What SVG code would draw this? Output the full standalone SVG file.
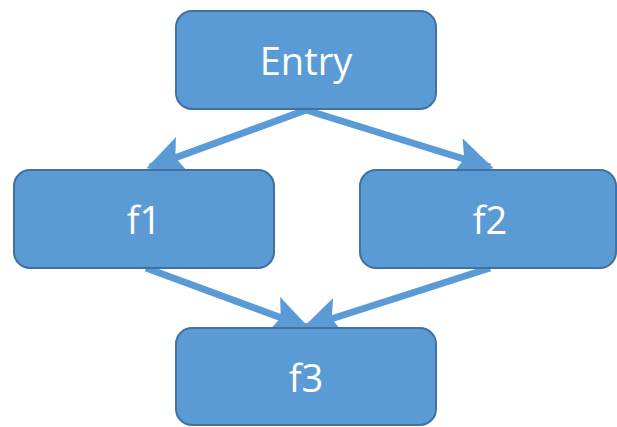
<svg xmlns="http://www.w3.org/2000/svg" width="617" height="427" viewBox="0 0 617 427">
<defs>
<style>
.box{fill:#5B9BD5;stroke:#41719C;stroke-width:2}
.lbl{fill:#fff;font-family:"Open Sans","Liberation Sans",sans-serif;font-size:38px;text-anchor:middle;dominant-baseline:central}
.edge{stroke:#5B9BD5;stroke-width:7;fill:none}
</style>
<marker id="ah" viewBox="0 0 10 10" refX="9" refY="5" markerWidth="5.5" markerHeight="5.5" orient="auto" markerUnits="strokeWidth">
<path d="M0,0 L10,5 L0,10 L2,5 Z" fill="#5B9BD5"/>
</marker>
</defs>
<g id="edges">
<line class="edge" x1="306" y1="110" x2="150" y2="167" marker-end="url(#ah)"/>
<line class="edge" x1="306" y1="110" x2="490" y2="167" marker-end="url(#ah)"/>
<line class="edge" x1="146" y1="268" x2="306" y2="327" marker-end="url(#ah)"/>
<line class="edge" x1="490" y1="268" x2="306" y2="327" marker-end="url(#ah)"/>
</g>
<g id="entry"><rect class="box" x="176" y="11" width="260" height="98" rx="16"/><text class="lbl" x="306" y="60">Entry</text></g>
<g id="f1"><rect class="box" x="14" y="170" width="260" height="98" rx="16"/><text class="lbl" x="144" y="219">f1</text></g>
<g id="f2"><rect class="box" x="360" y="170" width="256" height="98" rx="16"/><text class="lbl" x="490" y="219">f2</text></g>
<g id="f3"><rect class="box" x="176" y="328" width="260" height="97" rx="16"/><text class="lbl" x="306" y="377">f3</text></g>
</svg>
